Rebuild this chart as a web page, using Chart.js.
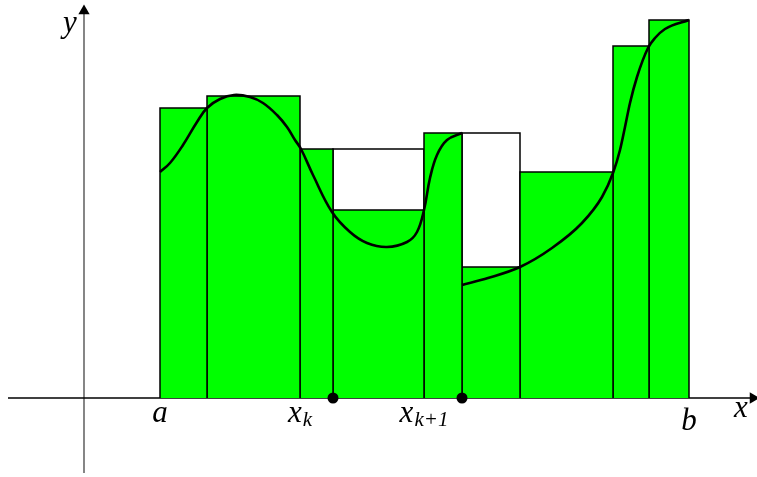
<!DOCTYPE html>
<html>
<head>
<meta charset="utf-8">
<script src="https://cdn.jsdelivr.net/npm/chart.js@4"></script>
<style>
html, body { margin: 0; padding: 0; background: #fff; }
#chart { display: block; }
</style>
</head>
<body>
<canvas id="chart" width="757" height="477"></canvas>
<script>
// partition a = x0 < x1 < ... < xn = b
const partition = [7.6, 12.3, 21.6, 24.9, 34.0, 37.8, 43.6, 52.9, 56.5, 60.5];
// green bar height on each subinterval
const lowerHeights = [29.0, 30.2, 24.9, 18.8, 26.5, 13.1, 22.6, 35.2, 37.8];
// outlined white rectangle above the green one (only where it differs)
const upperHeights = [null, null, null, 24.9, null, 26.5, null, null, null];

// the function, two pieces (jump at x = 37.8)
const curveLeftX = [7.6, 8.6, 9.9, 11.3, 12.3, 13.6, 15.0, 16.6, 17.9, 19.3, 20.3, 21.1, 21.7, 22.9, 24.8, 26.6, 28.3, 30.3, 32.3, 33.3, 34.0, 34.6, 35.3, 36.3, 37.8];
const curveLeftY = [22.6, 23.5, 25.3, 27.6, 29.0, 29.9, 30.3, 30.1, 29.5, 28.3, 27.1, 25.8, 24.9, 22.3, 18.6, 16.6, 15.5, 15.1, 15.6, 16.6, 18.8, 22.0, 24.3, 25.8, 26.5];
const curveRightX = [37.8, 40.4, 43.6, 46.8, 49.8, 51.8, 52.9, 53.6, 54.1, 54.6, 55.3, 56.4, 57.1, 58.1, 60.5];
const curveRightY = [11.3, 12.0, 13.1, 15.0, 17.5, 20.1, 22.5, 24.8, 27.1, 29.5, 32.1, 35.0, 36.0, 36.9, 37.8];

// dots on the x axis
const markedX = [24.9, 37.8];

// labels under the axis
const tickText = ["a", "x", "x", "b"];
const tickSub = ["", "k", "k+1", ""];
const tickAt = [0, 2, 4, 9]; // index into partition

const axisX = [-7.6, 66.9];
const axisY = [-7.5, 38.7];

const GREEN = "#00ff00";
const MAIN_FONT = "italic 31px 'Liberation Serif', serif";
const SUB_FONT = "italic 21px 'Liberation Serif', serif";

function rect(x0, x1, h) {
    return [{ x: x0, y: 0 }, { x: x0, y: h }, { x: x1, y: h }, { x: x1, y: 0 }];
}

function zip(xs, ys) {
    return xs.map((v, i) => ({ x: v, y: ys[i] }));
}

const datasets = [];

// white (upper) rectangles
upperHeights.forEach((h, i) => {
    if (h === null) return;
    datasets.push({
        data: rect(partition[i], partition[i + 1], h),
        backgroundColor: "#ffffff",
        borderColor: "#000",
        borderWidth: 1.5,
        fill: "origin",
        order: 3
    });
});

// green bars
lowerHeights.forEach((h, i) => {
    datasets.push({
        data: rect(partition[i], partition[i + 1], h),
        backgroundColor: GREEN,
        borderColor: "#000",
        borderWidth: 1.5,
        fill: "origin",
        order: 2
    });
});

// axes with arrow heads
datasets.push({
    data: [{ x: axisX[0], y: 0 }, { x: axisX[1], y: 0 }],
    borderColor: "#000",
    borderWidth: 1.3,
    pointStyle: "triangle",
    rotation: 90,
    pointRadius: [0, 6.5],
    pointBackgroundColor: "#000",
    pointBorderWidth: 0,
    clip: false,
    order: 4
});
datasets.push({
    data: [{ x: 0, y: axisY[0] }, { x: 0, y: axisY[1] }],
    borderColor: "#444",
    borderWidth: 1.3,
    pointStyle: "triangle",
    rotation: 0,
    pointRadius: [0, 6.5],
    pointBackgroundColor: "#000",
    pointBorderWidth: 0,
    order: 4
});

// the curve: left piece goes up and down, right piece only rises
datasets.push({
    data: zip(curveLeftX, curveLeftY),
    borderColor: "#000",
    borderWidth: 2.6,
    tension: 0.4,
    pointRadius: 0,
    fill: false,
    order: 1
});
datasets.push({
    data: zip(curveRightX, curveRightY),
    borderColor: "#000",
    borderWidth: 2.6,
    cubicInterpolationMode: "monotone",
    pointRadius: 0,
    fill: false,
    order: 1
});

// marked points
datasets.push({
    data: markedX.map(v => ({ x: v, y: 0 })),
    showLine: false,
    pointRadius: 5.5,
    pointBackgroundColor: "#000",
    pointBorderWidth: 0,
    order: 0
});

const mathLabels = {
    id: "mathLabels",
    afterDatasetsDraw(chart) {
        const { ctx, scales: { x, y } } = chart;
        const y0 = y.getPixelForValue(0);
        ctx.save();
        ctx.fillStyle = "#000";
        ctx.textBaseline = "alphabetic";
        ctx.textAlign = "left";

        tickText.forEach((t, i) => {
            const cx = x.getPixelForValue(partition[tickAt[i]]);
            ctx.font = MAIN_FONT;
            const m = ctx.measureText(t);
            ctx.font = SUB_FONT;
            const sw = tickSub[i] ? ctx.measureText(tickSub[i]).width + 1 : 0;
            const left = cx - (m.width + sw) / 2;
            const base = y0 + 9 + m.actualBoundingBoxAscent;
            ctx.font = MAIN_FONT;
            ctx.fillText(t, left, base);
            if (tickSub[i]) {
                ctx.font = SUB_FONT;
                ctx.fillText(tickSub[i], left + m.width + 1, base + 4);
            }
        });

        ctx.font = MAIN_FONT;
        ctx.textAlign = "center";
        ctx.fillText("x", x.getPixelForValue(axisX[1]) - 12, y0 + 19);
        ctx.fillText("y", x.getPixelForValue(0) - 14, y.getPixelForValue(axisY[1]) + 21);
        ctx.restore();
    }
};

new Chart(document.getElementById("chart"), {
    type: "scatter",
    data: { datasets: datasets },
    options: {
        responsive: false,
        animation: false,
        events: [],
        showLine: true,
        layout: { padding: 0, autoPadding: false },
        elements: { point: { radius: 0 }, line: { tension: 0 } },
        scales: {
            x: { type: "linear", min: -8.4, max: 67.3, display: false },
            y: { type: "linear", min: -7.9, max: 39.8, display: false }
        },
        plugins: {
            legend: { display: false },
            tooltip: { enabled: false }
        }
    },
    plugins: [mathLabels]
});
</script>
</body>
</html>
